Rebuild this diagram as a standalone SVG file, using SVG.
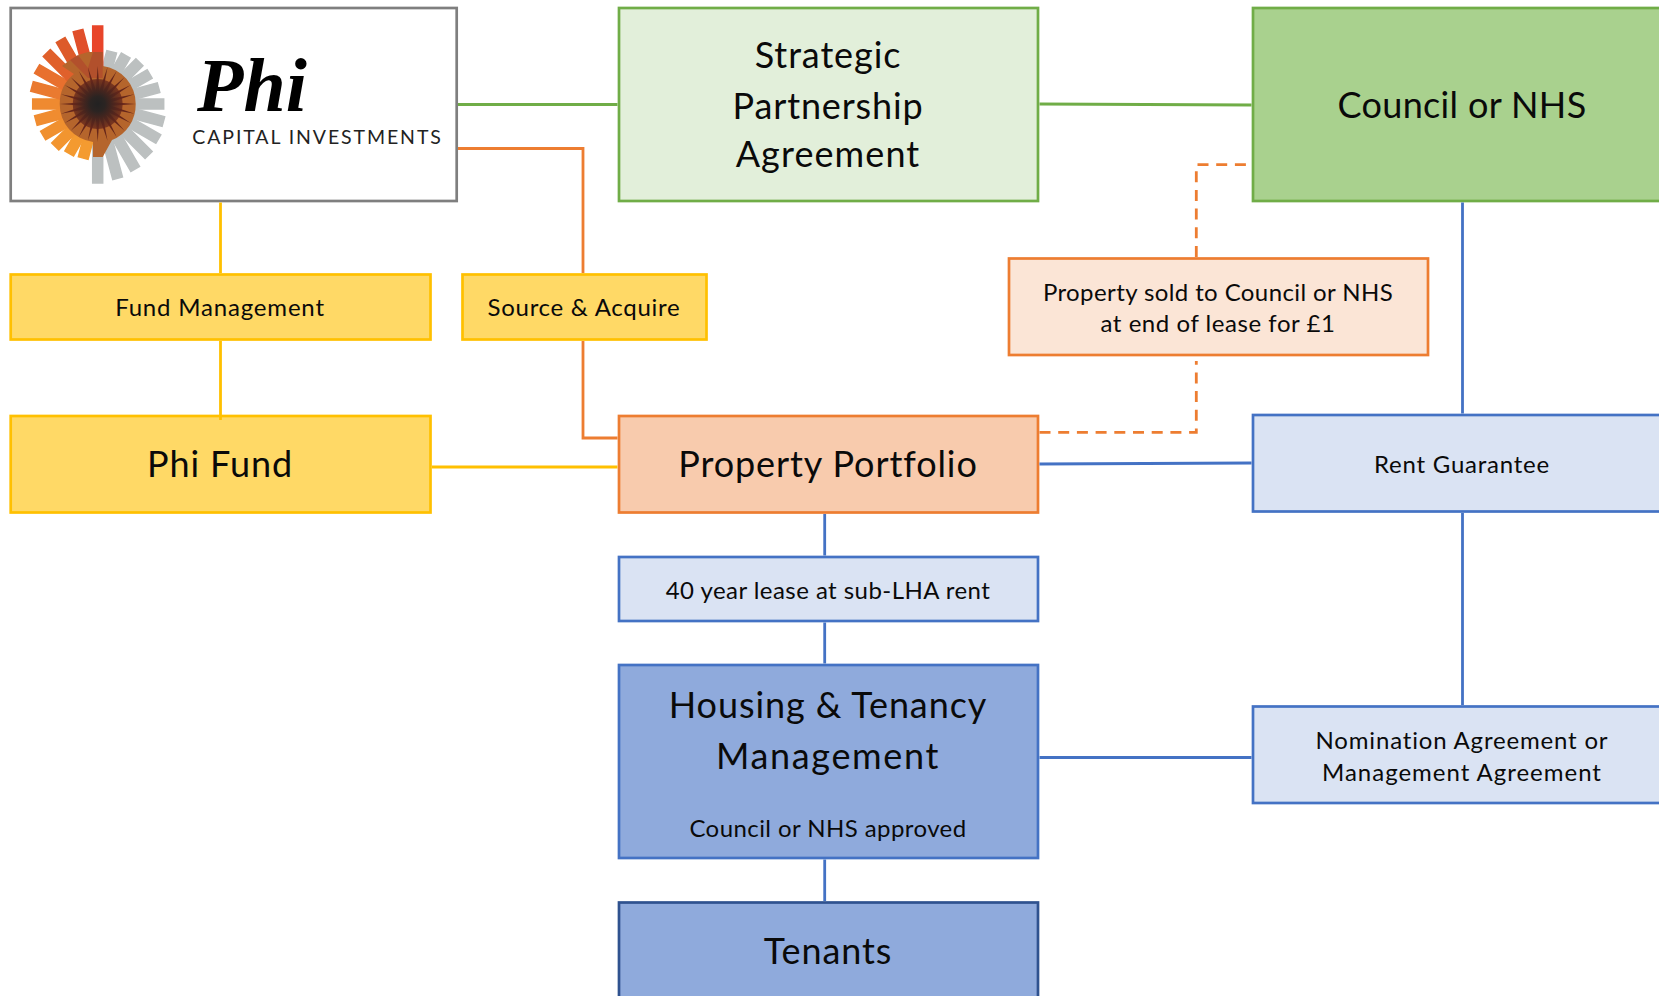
<svg xmlns="http://www.w3.org/2000/svg" width="1659" height="996" viewBox="0 0 1659 996">
<style>
text{font-family:"Lato","Liberation Sans",sans-serif;fill:#0a0a0a;text-anchor:middle}
.l{font-size:36px;letter-spacing:.9px}.s{font-size:24px;letter-spacing:.72px}
.box{stroke-width:2.700}
.y{fill:#ffd966;stroke:#ffc000}.g{fill:#e2efda;stroke:#70ad47}.gg{fill:#a9d18e;stroke:#70ad47}
.o{fill:#f8cbad;stroke:#ed7d31}.ol{fill:#fbe5d6;stroke:#ed7d31}.b{fill:#dae3f3;stroke:#4472c4}.bb{fill:#8faadc;stroke:#4472c4}
#connectors path{fill:none;stroke-width:2.8}
.cy{stroke:#ffc000}.cg{stroke:#70ad47}.co{stroke:#ed7d31}.cb{stroke:#4472c4}
.d{stroke-dasharray:11 7.700}
.ray rect,rect.ray{stroke-width:1.500}
</style>
<defs>
<polygon id="spike" points="97.700,66 100.500,104 97.700,142 94.900,104" fill="#66261a"/>
<radialGradient id="core"><stop offset="0" stop-color="#222"/><stop offset=".3" stop-color="#2b2422"/><stop offset="1" stop-color="#66261a" stop-opacity=".75"/></radialGradient>
</defs>
<g id="logo">
<rect x="10.700" y="8" width="446" height="193" fill="#fff" stroke="#7f7f7f" stroke-width="2.700"/>
<g id="logo-mark">
<g class="ray" fill="#bcc0c0" stroke="#bcc0c0">
<rect x="92.700" y="50" width="10" height="54" transform="rotate(15 97.700 104)"/>
<rect x="92.700" y="48" width="10" height="56" transform="rotate(30 97.700 104)"/>
<rect x="92.700" y="45" width="10" height="59" transform="rotate(45 97.700 104)"/>
<rect x="92.700" y="44" width="10" height="60" transform="rotate(60 97.700 104)"/>
<rect x="92.700" y="41" width="10" height="63" transform="rotate(75 97.700 104)"/>
<rect x="92.700" y="38" width="10" height="66" transform="rotate(90 97.700 104)"/>
<rect x="92.700" y="36" width="10" height="68" transform="rotate(105 97.700 104)"/>
<rect x="92.700" y="34" width="10" height="70" transform="rotate(120 97.700 104)"/>
<rect x="92.700" y="32" width="10" height="72" transform="rotate(135 97.700 104)"/>
<rect x="92.700" y="29" width="10" height="75" transform="rotate(150 97.700 104)"/>
<rect x="92.700" y="27" width="10" height="77" transform="rotate(165 97.700 104)"/>
<rect x="92.700" y="25" width="10" height="79" transform="rotate(180 97.700 104)"/>
</g>
<rect class="ray" x="92.700" y="48" width="10" height="56" fill="#f49b30" stroke="#f49b30" transform="rotate(195 97.700 104)"/>
<rect class="ray" x="92.700" y="47" width="10" height="57" fill="#f49a30" stroke="#f49a30" transform="rotate(210 97.700 104)"/>
<rect class="ray" x="92.700" y="44" width="10" height="60" fill="#f2952f" stroke="#f2952f" transform="rotate(225 97.700 104)"/>
<rect class="ray" x="92.700" y="41" width="10" height="63" fill="#f0902f" stroke="#f0902f" transform="rotate(240 97.700 104)"/>
<rect class="ray" x="92.700" y="40" width="10" height="64" fill="#f08c30" stroke="#f08c30" transform="rotate(255 97.700 104)"/>
<rect class="ray" x="92.700" y="39" width="10" height="65" fill="#ef8a30" stroke="#ef8a30" transform="rotate(270 97.700 104)"/>
<rect class="ray" x="92.700" y="36" width="10" height="68" fill="#ea7a30" stroke="#ea7a30" transform="rotate(285 97.700 104)"/>
<rect class="ray" x="92.700" y="34" width="10" height="70" fill="#e8702e" stroke="#e8702e" transform="rotate(300 97.700 104)"/>
<rect class="ray" x="92.700" y="32" width="10" height="72" fill="#e0602b" stroke="#e0602b" transform="rotate(315 97.700 104)"/>
<rect class="ray" x="92.700" y="30" width="10" height="74" fill="#dd5a2a" stroke="#dd5a2a" transform="rotate(330 97.700 104)"/>
<rect class="ray" x="92.700" y="28" width="10" height="76" fill="#e04f2b" stroke="#e04f2b" transform="rotate(345 97.700 104)"/>
<rect class="ray" x="92.700" y="26" width="10" height="78" fill="#e8452a" stroke="#e8452a"/>
<path d="M93 52H102.700V66A38 38 0 0 1 135.700 104A38 38 0 0 1 112 140L102.700 157H93V142A38 38 0 0 1 59.700 104A38 38 0 0 1 74 74L62 66L70 60L84 68L78 55L88 52Z" fill="#b5652c"/>
<path d="M93 52H102.700V78H88L70 60L78 55L88 68Z" fill="#b2502c"/>
<use href="#spike"/>
<use href="#spike" transform="rotate(15 97.700 104)"/>
<use href="#spike" transform="rotate(30 97.700 104)"/>
<use href="#spike" transform="rotate(45 97.700 104)"/>
<use href="#spike" transform="rotate(60 97.700 104)"/>
<use href="#spike" transform="rotate(75 97.700 104)"/>
<use href="#spike" transform="rotate(90 97.700 104)"/>
<use href="#spike" transform="rotate(105 97.700 104)"/>
<use href="#spike" transform="rotate(120 97.700 104)"/>
<use href="#spike" transform="rotate(135 97.700 104)"/>
<use href="#spike" transform="rotate(150 97.700 104)"/>
<use href="#spike" transform="rotate(165 97.700 104)"/>
<circle cx="97.700" cy="104" r="25" fill="url(#core)"/>
</g>
<text x="252" y="111" style="font-family:'Liberation Serif',serif;font-style:italic;font-weight:700;font-size:76px;fill:#000">Phi</text>
<text x="317.500" y="144" style="font-size:19.500px;letter-spacing:1.900px;fill:#222">CAPITAL INVESTMENTS</text>
</g>
<g id="strategic"><rect class="box g" x="619" y="8" width="419" height="193"/><text class="l" x="828" y="67.500">Strategic</text><text class="l" x="828" y="118.500" style="letter-spacing:.85px">Partnership</text><text class="l" x="828" y="167" style="letter-spacing:1.100px">Agreement</text></g>
<g id="council"><rect class="box gg" x="1253" y="8" width="420" height="193"/><text class="l" x="1462" y="118" style="letter-spacing:.35px">Council or NHS</text></g>
<g id="fund-management"><rect class="box y" x="10.700" y="274.500" width="419.800" height="65"/><text class="s" x="220" y="316" style="letter-spacing:.82px">Fund Management</text></g>
<g id="source"><rect class="box y" x="462.500" y="274.500" width="244" height="65"/><text class="s" x="584" y="316">Source &amp; Acquire</text></g>
<g id="sold"><rect class="box ol" x="1009" y="258.500" width="419" height="96.500"/><text class="s" x="1218" y="301" style="letter-spacing:.4px">Property sold to Council or NHS</text><text class="s" x="1218" y="332" style="letter-spacing:.55px">at end of lease for £1</text></g>
<g id="phi-fund"><rect class="box y" x="10.700" y="416" width="419.800" height="96.500"/><text class="l" x="220" y="477">Phi Fund</text></g>
<g id="portfolio"><rect class="box o" x="619" y="416" width="419" height="96.500"/><text class="l" x="828" y="477">Property Portfolio</text></g>
<g id="rent"><rect class="box b" x="1253" y="415" width="420" height="96.500"/><text class="s" x="1462" y="473" style="letter-spacing:.78px">Rent Guarantee</text></g>
<g id="lease"><rect class="box b" x="619" y="557" width="419" height="64"/><text class="s" x="828" y="599" style="letter-spacing:.45px">40 year lease at sub-LHA rent</text></g>
<g id="housing"><rect class="box bb" x="619" y="665" width="419" height="193"/><text class="l" x="828" y="718">Housing &amp; Tenancy</text><text class="l" x="828" y="769" style="letter-spacing:1.650px">Management</text><text class="s" x="828" y="837" style="letter-spacing:.42px">Council or NHS approved</text></g>
<g id="nomination"><rect class="box b" x="1253" y="706.500" width="420" height="96.500"/><text class="s" x="1462" y="749" style="letter-spacing:.82px">Nomination Agreement or</text><text class="s" x="1462" y="781" style="letter-spacing:.98px">Management Agreement</text></g>
<g id="tenants"><rect x="619" y="902.500" width="419" height="110" fill="#8faadc" stroke="#2f528f" stroke-width="2.700"/><text class="l" x="828" y="964">Tenants</text></g>
<g id="connectors">
<path class="cg" d="M458 104.500H617.500M1039.500 104L1251.500 105"/>
<path class="co" d="M458 148.500H583V273M583 341V438H617.500"/>
<path class="co d" d="M1196.300 257V164.700H1252"/>
<path class="co d" d="M1039.500 432.300H1196.300V361"/>
<path class="cy" d="M220.500 202.500V273M220.500 341V420M432 467H617.500"/>
<path class="cb" d="M1462.500 202.500V413.500M1462.500 513V705M1039.500 464L1251.500 463M824.700 514V555.500M824.700 622.500V663.500M824.700 859.500V901M1039.500 757.500H1251.500"/>
</g>
</svg>
